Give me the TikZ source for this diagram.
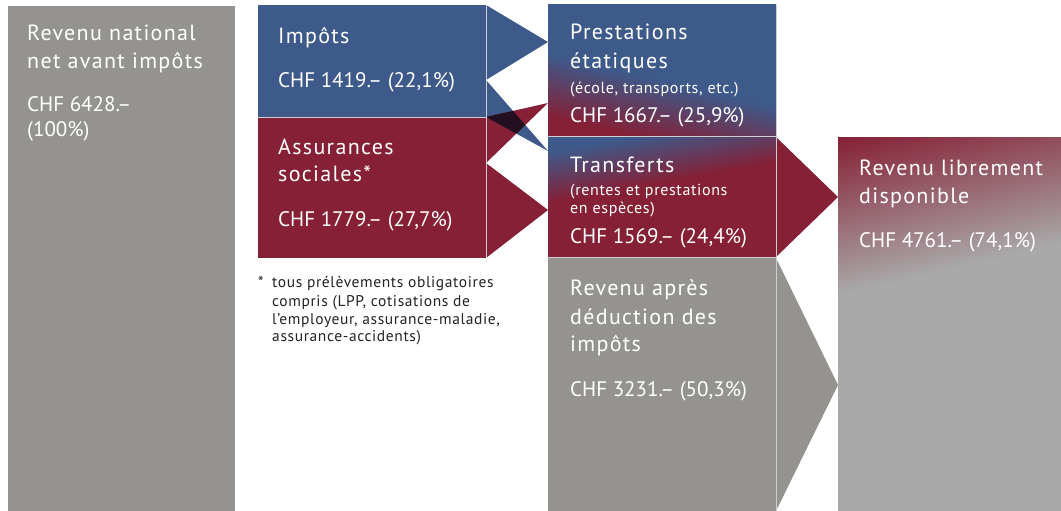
\documentclass[tikz,border=0pt]{standalone}
\usepackage{fontspec}
\setmainfont{PT Sans}
\newfontfamily\headfont{PT Sans}[LetterSpace=6]
\newfontfamily\valfont{PT Sans}[LetterSpace=0]
\newfontfamily\smallfont{PT Sans}[LetterSpace=4]

\definecolor{bfsblue}{RGB}{62,90,138}
\definecolor{bfsred}{RGB}{134,32,54}
\definecolor{bfsgray}{RGB}{149,147,143}
\definecolor{bfslight}{RGB}{169,169,169}
\definecolor{bfsdark}{RGB}{36,15,32}
\definecolor{rulecol}{RGB}{205,205,210}
\definecolor{notecol}{RGB}{35,35,35}

% one straight band of a linear colour ramp: origin, normal angle, from t=#4 to t=#5
\newcommand\shadeband[6]{%
  \pgfmathsetmacro\bnx{sin(#3)}%
  \pgfmathsetmacro\bny{cos(#3)}%
  \fill[#6] ({#1+(#4)*\bnx-600*\bny},{#2+(#4)*\bny+600*\bnx})
    -- ({#1+(#4)*\bnx+600*\bny},{#2+(#4)*\bny-600*\bnx})
    -- ({#1+(#5)*\bnx+600*\bny},{#2+(#5)*\bny-600*\bnx})
    -- ({#1+(#5)*\bnx-600*\bny},{#2+(#5)*\bny+600*\bnx}) -- cycle;%
}
% linear ramp from colour #6 (t<=#4) to colour #7 (t>=#5) in #8 steps
\newcommand\linearramp[8]{%
  \shadeband{#1}{#2}{#3}{(#4)-1200}{(#4)+1}{#6}%
  \foreach \k in {1,...,#8}{%
    \pgfmathsetmacro\ka{(#4)+((#5)-(#4))*(\k-1)/#8}%
    \pgfmathsetmacro\kb{(#4)+((#5)-(#4))*\k/#8+0.8}%
    \pgfmathsetmacro\kp{100*(\k-0.5)/#8}%
    \shadeband{#1}{#2}{#3}{\ka}{\kb}{#7!\kp!#6}%
  }%
  \shadeband{#1}{#2}{#3}{#5}{(#5)+1200}{#7}%
}

\tikzset{
  head/.style={font=\headfont\fontsize{22}{26}\selectfont, text=white, anchor=base west, inner sep=0pt},
  val/.style={font=\valfont\fontsize{21}{26}\selectfont, text=white, anchor=base west, inner sep=0pt},
  small/.style={font=\smallfont\fontsize{16}{18}\selectfont, text=white, anchor=base west, inner sep=0pt},
  note/.style={font=\smallfont\fontsize{15.5}{18}\selectfont, text=notecol, anchor=base west, inner sep=0pt},
  rule/.style={draw=rulecol, line width=1pt},
}

\begin{document}
\begin{tikzpicture}[x=1pt,y=-1pt]
\useasboundingbox (0,0) rectangle (1061,511);
\fill[white] (0,0) rectangle (1061,511);

% column 1: national income
\fill[bfsgray] (8,6) rectangle (235,511);

% column 2: taxes and social insurance
\fill[bfsblue] (258,5) rectangle (486,117);
\fill[bfsred] (258,117) rectangle (486,258);

% flows from column 2 to column 3
\coordinate (b1) at (486,5);
\coordinate (b2) at (548,42);
\coordinate (b3) at (486,80);
\coordinate (b4) at (548,151);
\coordinate (b5) at (486,117);
\coordinate (r2) at (548,103);
\coordinate (r3) at (486,163);
\coordinate (r4) at (548,210);
\coordinate (r5) at (486,258);
\fill[bfsblue] (b1) -- (b2) -- (b3) -- (b4) -- (b5) -- cycle;
\fill[bfsred] (b5) -- (r2) -- (r3) -- (r4) -- (r5) -- cycle;
\begin{scope}
  \clip (b5) -- (r2) -- (r3) -- cycle;
  \fill[bfsdark] (b3) -- (b4) -- (b5) -- cycle;
\end{scope}

% column 3: state services, transfers, income after tax
\begin{scope}
  \clip (548,5) rectangle (776,136);
  \linearramp{548}{86}{-13}{-30}{30}{bfsblue}{bfsred}{40}
\end{scope}
\begin{scope}
  \clip (548,136) rectangle (776,257.5);
  \linearramp{548}{178}{10}{-25}{25}{bfsblue}{bfsred}{40}
\end{scope}
\fill[bfsgray] (548,257.5) rectangle (776,511);

% flows from column 3 to column 4
\coordinate (t1) at (776,137);
\coordinate (t2) at (838,197);
\coordinate (t3) at (776,257);
\coordinate (g1) at (776,258);
\coordinate (g2) at (838,385);
\coordinate (g3) at (776,511);
\fill[bfsred] (t1) -- (t2) -- (t3) -- cycle;
\fill[bfsgray] (g1) -- (g2) -- (g3) -- cycle;

% column 4: disposable income
\begin{scope}
  \clip (838,137) rectangle (1061,511);
  \linearramp{838}{137}{13}{0}{155}{bfsred}{bfslight}{50}
\end{scope}

% thin separating rules
\draw[rule] (258,117) -- (486,117);
\draw[rule] (486,5) -- (486,258);
\draw[rule] (548,136) -- (776,136);
\draw[rule] (548,257.5) -- (776,257.5);
\draw[rule] (776,5) -- (776,511);

% labels, column 1
\node[head] (c1a) at (27,40.5) {Revenu national};
\node[head] (c1b) at (27,68.5) {net avant impôts};
\node[val]  (c1c) at (27,111.5) {CHF 6428.–};
\node[val]  (c1d) at (27,136) {(100\%)};

% labels, column 2
\node[head] (c2a) at (278,43.3) {Impôts};
\node[val]  (c2b) at (278,87.3) {CHF 1419.– (22,1\%)};
\node[head] (c2c) at (278,154) {Assurances};
\node[head] (c2d) at (278,181.7) {sociales*};
\node[val]  (c2e) at (278,226.7) {CHF 1779.– (27,7\%)};

% footnote
\node[note] (n0) at (258,287.7) {*};
\node[note] (n1) at (272,287.7) {tous prélèvements obligatoires};
\node[note] (n2) at (272,306) {compris (LPP, cotisations de};
\node[note] (n3) at (272,324) {l’employeur, assurance-maladie,};
\node[note] (n4) at (272,341.7) {assurance-accidents)};

% labels, column 3
\node[head]  (c3a) at (570,40) {Prestations};
\node[head]  (c3b) at (570,68.5) {étatiques};
\node[small] (c3c) at (570,93) {(école, transports, etc.)};
\node[val]   (c3d) at (570,122.8) {CHF 1667.– (25,9\%)};
\node[head]  (c3e) at (570,172.7) {Transferts};
\node[small] (c3f) at (570,195.5) {(rentes et prestations};
\node[small] (c3g) at (570,213.5) {en espèces)};
\node[val]   (c3h) at (570,243.8) {CHF 1569.– (24,4\%)};
\node[head]  (c3i) at (570,295) {Revenu après};
\node[head]  (c3j) at (570,324) {déduction des};
\node[head]  (c3k) at (570,351.7) {impôts};
\node[val]   (c3l) at (570,396.7) {CHF 3231.– (50,3\%)};

% labels, column 4
\node[head] (c4a) at (859,175.7) {Revenu librement};
\node[head] (c4b) at (859,203.3) {disponible};
\node[val]  (c4c) at (859,247.7) {CHF 4761.– (74,1\%)};
\end{tikzpicture}
\end{document}
